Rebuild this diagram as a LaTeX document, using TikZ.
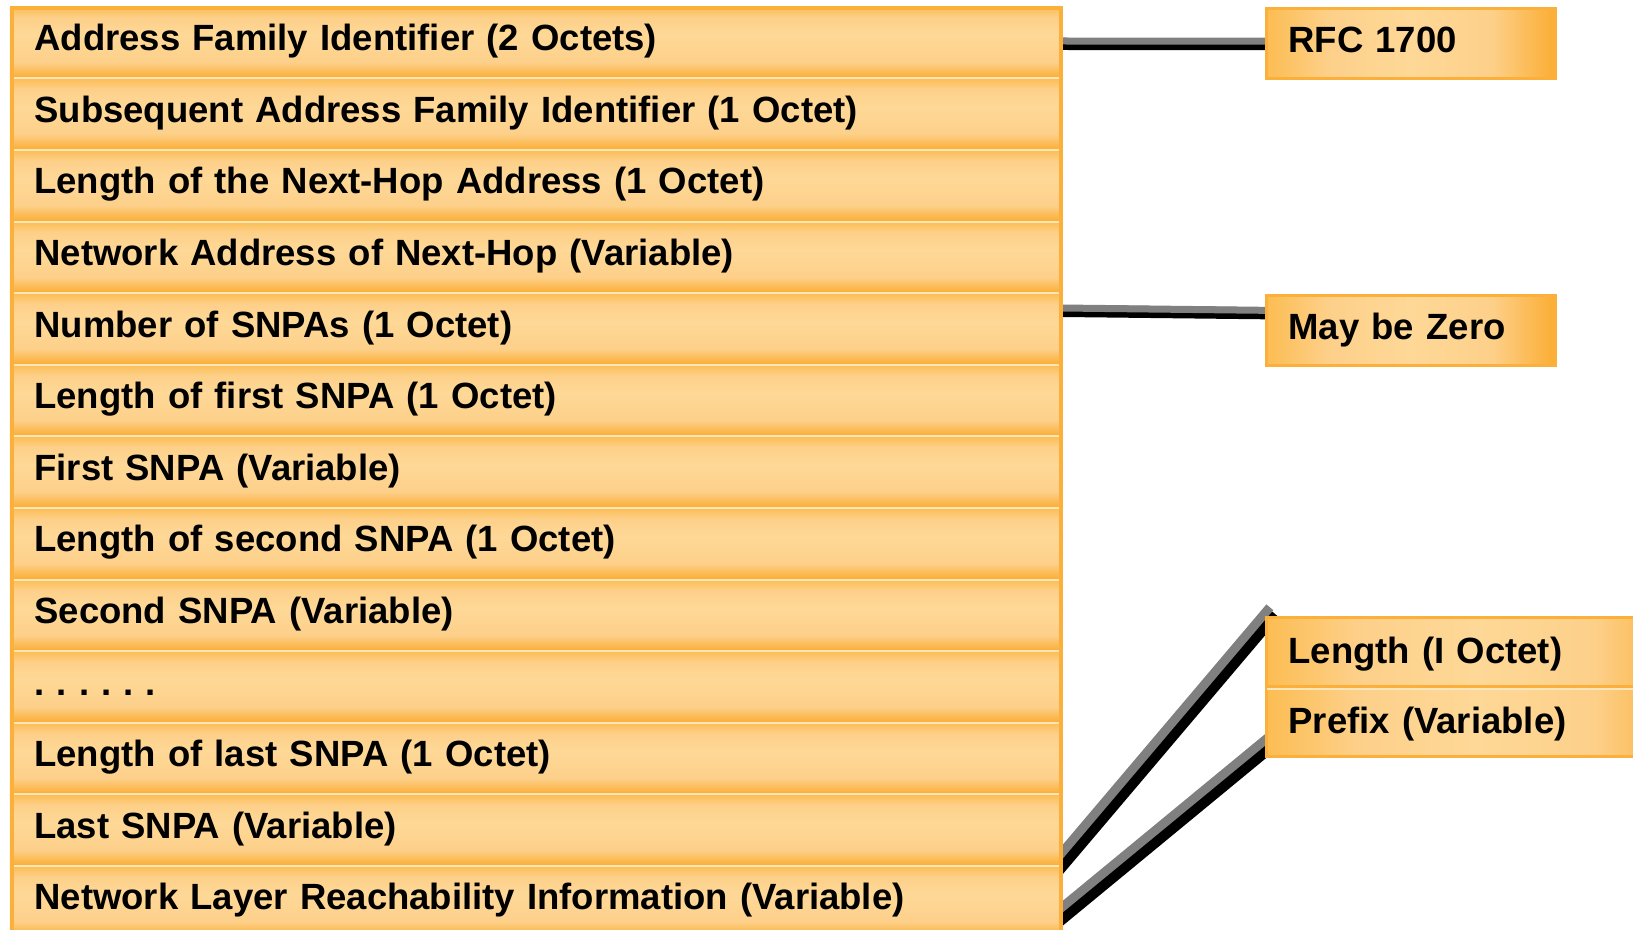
\documentclass[tikz,border=0pt]{standalone}
\usepackage{fontspec}
\setmainfont{Liberation Sans}
\usetikzlibrary{calc}
\pgfdeclarelayer{back}
\pgfsetlayers{back,main}
\definecolor{oframe}{HTML}{FBB03B}
\definecolor{obot}{HTML}{FBAD33}
\definecolor{olight}{HTML}{FED897}
\definecolor{olight2}{HTML}{FDD08A}
\definecolor{otop}{HTML}{FCBD52}
\definecolor{osep}{HTML}{FFE6BA}
\definecolor{linegray}{HTML}{808080}
% vertical band: orange at the edges, pale in the middle
\pgfdeclareverticalshading{rowshade}{100bp}{color(0bp)=(obot); color(25bp)=(obot); color(36bp)=(olight2); color(55bp)=(olight); color(67bp)=(olight2); color(75bp)=(otop); color(100bp)=(otop)}
% horizontal sheen for the side notes
\pgfdeclarehorizontalshading{tagshade}{100bp}{color(0bp)=(obot); color(25bp)=(otop); color(36bp)=(olight2); color(50bp)=(olight); color(64bp)=(olight2); color(75bp)=(obot); color(100bp)=(obot)}
\frenchspacing
\begin{document}
\begin{tikzpicture}[x=0.5pt,y=-0.5pt,
  lbl/.style={font=\fontsize{18.25pt}{22pt}\selectfont\bfseries, align=left},
  field/.style={lbl, shading=rowshade, anchor=north west, inner ysep=0pt,
    inner xsep=12.25pt, minimum width=526.25pt, minimum height=35.8pt,
    text width=501.75pt, text height=13pt, text depth=4.5pt},
  tag/.style={lbl, draw=oframe, line width=1.5pt, anchor=north west,
    shading=tagshade, inner ysep=0pt, inner xsep=11.25pt,
    minimum width=144.5pt, minimum height=35pt, text width=122pt,
    text height=13pt, text depth=4.5pt},
  subtag/.style={tag, minimum width=210pt, text width=187.75pt,
    text height=14pt, text depth=2.25pt},
  sep/.style={osep, line width=1pt},
  wire/.style={black, line width=6pt, shorten <=-8pt, shorten >=-8pt},
  wirehi/.style={linegray, line width=3.5pt, shorten <=-8pt, shorten >=-8pt,
    transform canvas={shift={(-2,-3)}}},
  slant/.style={wire, line width=6.5pt},
  slanthi/.style={wirehi, line width=4.5pt, transform canvas={shift={(-3,-3.5)}}}]
\useasboundingbox (0,0) rectangle (1633,930);
\clip (0,0) rectangle (1633,930);

% attribute fields of the MP_REACH_NLRI attribute
\foreach \t [count=\k] in {Address Family Identifier (2 Octets),
  Subsequent Address Family Identifier (1 Octet),
  Length of the Next-Hop Address (1 Octet),
  Network Address of Next-Hop (Variable),
  Number of SNPAs (1 Octet),
  Length of first SNPA (1 Octet),
  First SNPA (Variable),
  Length of second SNPA (1 Octet),
  Second SNPA (Variable),
  . . . . . .,
  Length of last SNPA (1 Octet),
  Last SNPA (Variable),
  Network Layer Reachability Information (Variable)}
  \node[field] (r\k) at (9.5,{6+71.6*(\k-1)}) {\t};

\foreach \k in {1,...,12}
  \draw[sep] ($(r\k.south west)+(4,0)$) -- ($(r\k.south east)+(-4,0)$);
\draw[oframe, line width=2pt] ($(r1.north west)+(2,2)$) rectangle ($(r13.south east)+(-2,-2)$);

% side notes
\node[tag] (rfc) at (1264.5,7.5) {RFC 1700};
\node[tag] (mbz) at (1264.5,294.5) {May be Zero};
\node[subtag] (len) at (1264.5,615.5) {Length (I Octet)};
\node[subtag, minimum height=35pt] (pre) at (1264.5,685) {Prefix (Variable)};
\draw[sep] ($(len.south west)+(2,0)$) -- ($(len.south east)+(-2,0)$);

% connectors behind the boxes
\begin{pgfonlayer}{back}
  \coordinate (a1) at ($(r1.north east)+(0,38)$);
  \coordinate (b1) at ($(rfc.north west)+(0,36.7)$);
  \coordinate (a2) at ($(r5.north east)+(0,18.6)$);
  \coordinate (b2) at ($(mbz.north west)+(0,18.8)$);
  \coordinate (a3) at ($(r12.south east)+(0,-2)$);
  \coordinate (b3) at ($(len.north west)+(0,10.5)$);
  \coordinate (a4) at ($(r13.north east)+(0,52)$);
  \coordinate (b4) at ($(pre.south west)+(0,-7)$);
  \foreach \i in {1,2} {
    \draw[wire] (a\i) -- (b\i);
    \draw[wirehi] (a\i) -- (b\i);
  }
  \foreach \i in {3,4} {
    \draw[slant] (a\i) -- (b\i);
    \draw[slanthi] (a\i) -- (b\i);
  }
\end{pgfonlayer}
\end{tikzpicture}
\end{document}
